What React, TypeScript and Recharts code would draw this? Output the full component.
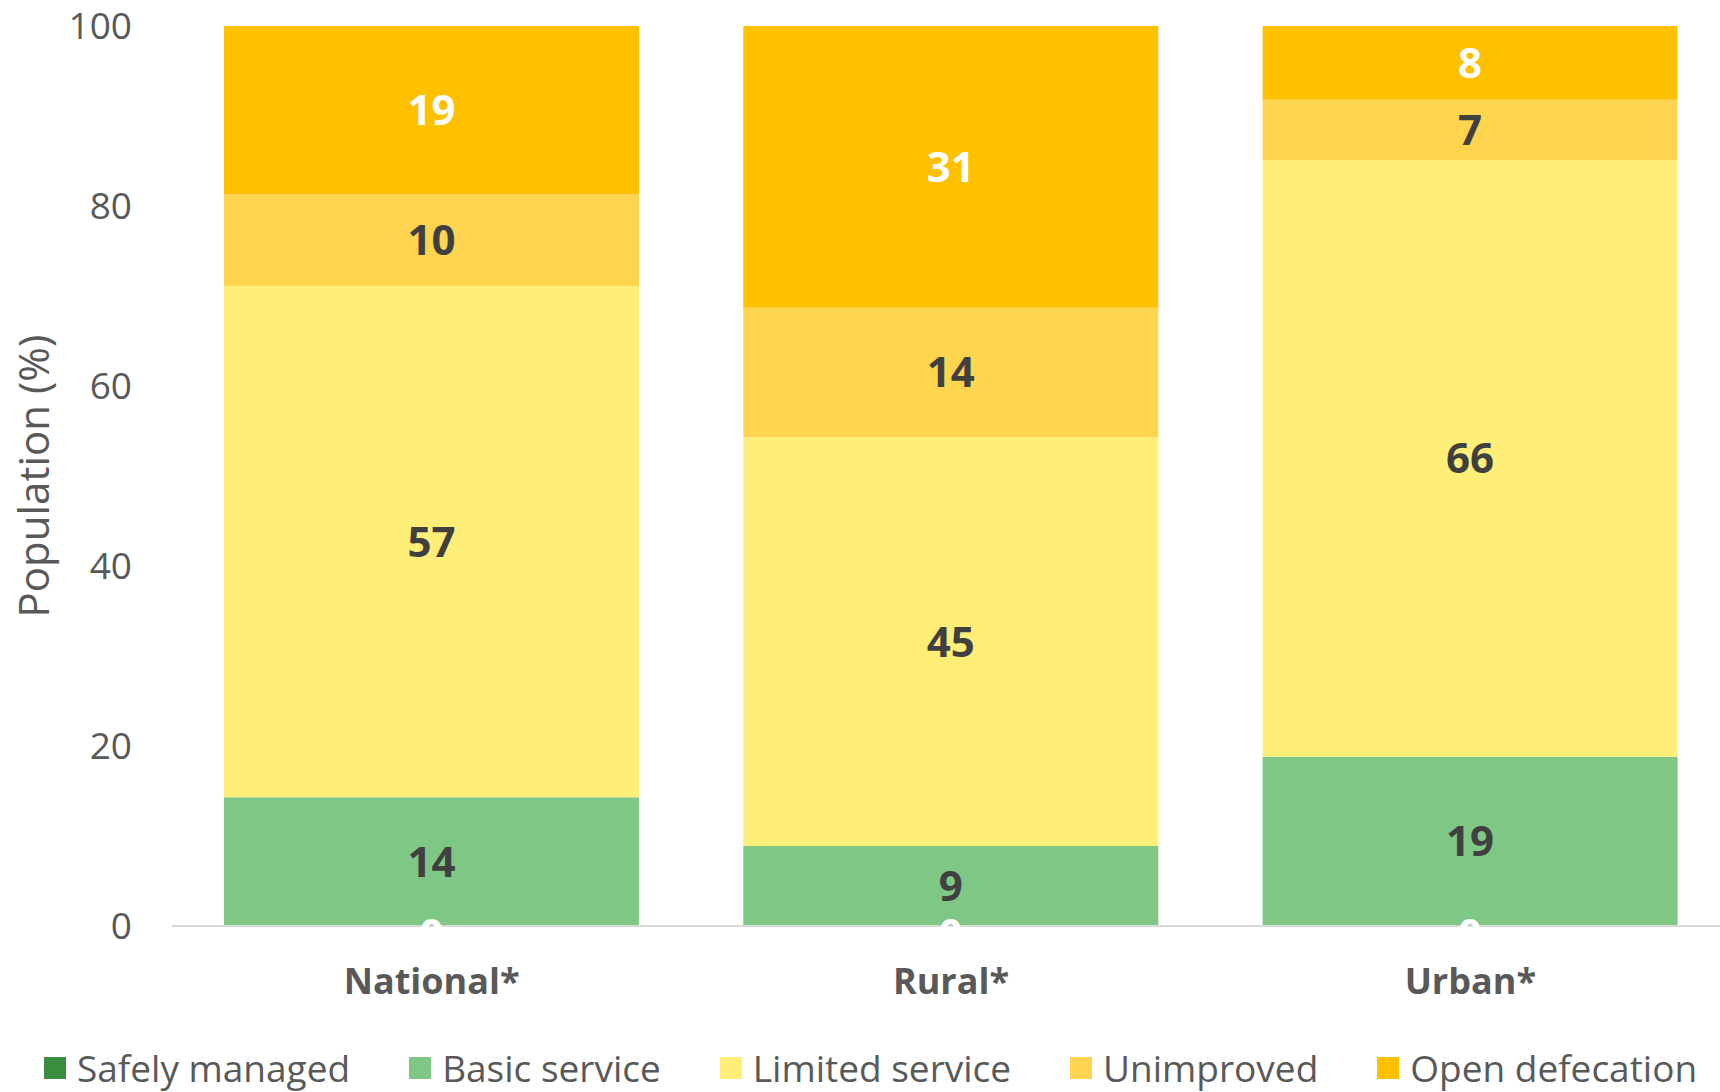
import { BarChart, Bar, XAxis, YAxis, LabelList } from "recharts";

const categories = ["National*", "Rural*", "Urban*"];
const seriesNames = ["Safely managed", "Basic service", "Limited service", "Unimproved", "Open defecation"];
const safelyManaged = [0, 0, 0];
const basicService = [14.3, 8.9, 18.8];
const limitedService = [56.8, 45.4, 66.3];
const unimproved = [10.2, 14.4, 6.7];
const openDefecation = [18.7, 31.3, 8.2];
const yTicks = [0, 20, 40, 60, 80, 100];

const colors = ["#3A8D3E", "#7FC785", "#FFEF78", "#FFD54F", "#FFC000"];
const labelColors = ["#FFFFFF", "#404040", "#404040", "#404040", "#FFFFFF"];
const keys = ["safely", "basic", "limited", "unimproved", "open"];

const data = categories.map((name, i) => ({
  name,
  safely: safelyManaged[i],
  basic: basicService[i],
  limited: limitedService[i],
  unimproved: unimproved[i],
  open: openDefecation[i],
}));

const FONT = "'Open Sans', sans-serif";
const GREY = "#595959";

const renderYTitle = (props: any) => {
  const vb = props.viewBox;
  const cx = vb.x + 32;
  const cy = vb.y + vb.height / 2;
  return (
    <text
      x={cx}
      y={cy}
      transform={`rotate(-90 ${cx} ${cy})`}
      textAnchor="middle"
      dominantBaseline="central"
      fill={GREY}
      fontSize={42}
      fontFamily={FONT}
    >
      Population (%)
    </text>
  );
};

// "0" of the safely-managed series: drawn with the basic bar (so it is not
// covered by it), at that bar's bottom edge, mostly hidden below the baseline
const renderZeroLabel = (props: any) => {
  const { x, y, width, height, value } = props;
  return (
    <text
      x={Number(x) + Number(width) / 2}
      y={Number(y) + Number(height || 0) + 23}
      textAnchor="middle"
      fill="#FFFFFF"
      fontSize={42}
      fontWeight={700}
      fontFamily={FONT}
    >
      {Math.round(Number(value) || 0)}
    </text>
  );
};

export default function App() {
  return (
    <div style={{ position: "absolute", left: 0, top: 0, width: 1720, height: 1092, overflow: "hidden", background: "#fff" }}>
      <BarChart
        width={1730}
        height={1092}
        data={data}
        margin={{ top: 26, right: 0, bottom: 0, left: 0 }}
        barCategoryGap="10%"
      >
        <XAxis
          dataKey="name"
          height={166}
          tickLine={false}
          tickSize={0}
          tickMargin={42}
          axisLine={{ stroke: "#D9D9D9", strokeWidth: 2 }}
          tick={{ fill: GREY, fontSize: 36, fontWeight: 700, fontFamily: FONT }}
        />
        <YAxis
          width={172}
          domain={[0, 100]}
          ticks={yTicks}
          axisLine={false}
          tickLine={false}
          tickSize={0}
          tickMargin={40}
          tick={{ fill: GREY, fontSize: 37, fontFamily: FONT }}
          label={renderYTitle}
        />
        {keys.map((k, i) => (
          <Bar key={k} dataKey={k} name={seriesNames[i]} stackId="a" fill={colors[i]} isAnimationActive={false}>
            {i === 1 && <LabelList dataKey="safely" content={renderZeroLabel} />}
            {i > 0 && (
              <LabelList
                dataKey={k}
                position="center"
                formatter={(v: any) => Math.round(Number(v))}
                fill={labelColors[i]}
                fontSize={42}
                fontWeight={700}
                fontFamily={FONT}
              />
            )}
          </Bar>
        ))}
      </BarChart>
      <div
        style={{
          position: "absolute",
          left: 44,
          top: 1046,
          height: 44,
          lineHeight: "44px",
          display: "flex",
          alignItems: "center",
          gap: 59,
          fontFamily: FONT,
          fontSize: 37,
          color: GREY,
          whiteSpace: "nowrap",
        }}
      >
        {seriesNames.map((n, i) => (
          <div key={n} style={{ display: "flex", alignItems: "center" }}>
            <div style={{ width: 22, height: 22, background: colors[i], marginRight: 11 }} />
            <span>{n}</span>
          </div>
        ))}
      </div>
    </div>
  );
}
